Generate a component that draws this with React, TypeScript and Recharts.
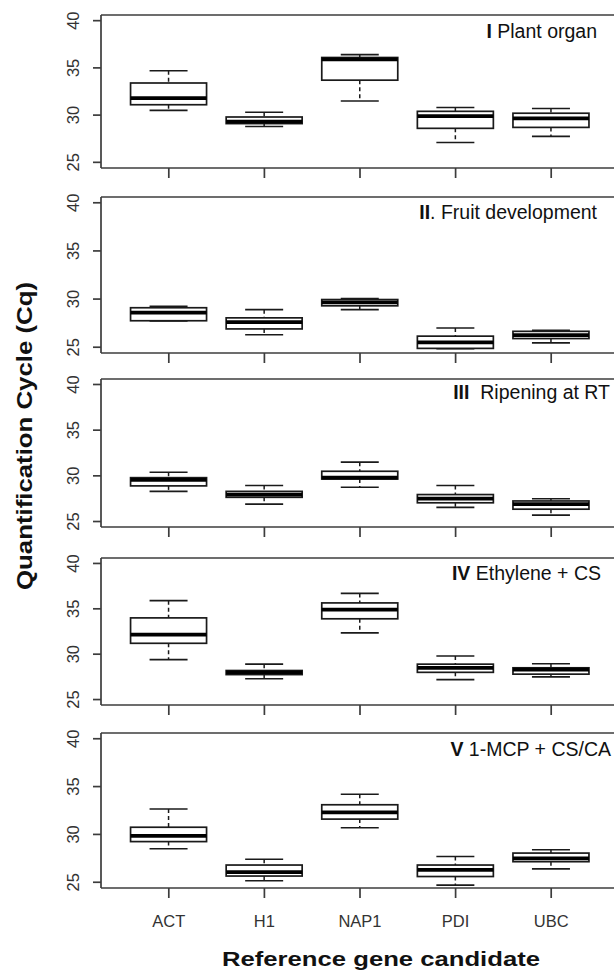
import React from 'react';
import { ComposedChart, Bar, XAxis, YAxis, ReferenceLine } from 'recharts';

// ---------- data ----------
const GENES = ['ACT', 'H1', 'NAP1', 'PDI', 'UBC'];
const Y_TICKS = [25, 30, 35, 40];
const Y_DOMAIN: [number, number] = [24.4, 40.6];

const PANEL_ROMAN = ['I', 'II', 'III', 'IV', 'V'];
const PANEL_NAMES = [' Plant organ', '. Fruit development', '  Ripening at RT', ' Ethylene + CS', ' 1-MCP + CS/CA'];

// I Plant organ
const P1_LOW = [30.5, 28.8, 31.5, 27.1, 27.75];
const P1_Q1 = [31.1, 29.1, 33.7, 28.6, 28.7];
const P1_MED = [31.8, 29.3, 35.9, 29.9, 29.65];
const P1_Q3 = [33.4, 29.8, 36.1, 30.4, 30.2];
const P1_HIGH = [34.7, 30.3, 36.4, 30.8, 30.7];

// II Fruit development
const P2_LOW = [27.72, 26.3, 28.9, 24.85, 25.45];
const P2_Q1 = [27.75, 26.9, 29.3, 24.88, 25.9];
const P2_MED = [28.6, 27.6, 29.65, 25.5, 26.25];
const P2_Q3 = [29.1, 28.05, 29.95, 26.15, 26.65];
const P2_HIGH = [29.25, 28.9, 30.05, 27.0, 26.75];

// III Ripening at RT
const P3_LOW = [28.3, 26.9, 28.75, 26.55, 25.7];
const P3_Q1 = [28.9, 27.65, 29.65, 27.05, 26.35];
const P3_MED = [29.55, 27.95, 29.8, 27.5, 26.9];
const P3_Q3 = [29.8, 28.3, 30.5, 27.95, 27.25];
const P3_HIGH = [30.4, 28.95, 31.5, 28.95, 27.5];

// IV Ethylene + CS
const P4_LOW = [29.4, 27.3, 32.35, 27.2, 27.5];
const P4_Q1 = [31.2, 27.75, 33.9, 28.0, 27.8];
const P4_MED = [32.15, 28.0, 34.9, 28.5, 28.3];
const P4_Q3 = [34.0, 28.2, 35.65, 28.9, 28.5];
const P4_HIGH = [35.9, 28.9, 36.7, 29.8, 28.95];

// V 1-MCP + CS/CA
const P5_LOW = [28.5, 25.15, 30.7, 24.7, 26.4];
const P5_Q1 = [29.25, 25.65, 31.6, 25.6, 27.15];
const P5_MED = [29.85, 26.05, 32.3, 26.3, 27.5];
const P5_Q3 = [30.75, 26.8, 33.1, 26.8, 28.05];
const P5_HIGH = [32.65, 27.4, 34.2, 27.7, 28.4];

const PANEL_STATS = [
  [P1_LOW, P1_Q1, P1_MED, P1_Q3, P1_HIGH],
  [P2_LOW, P2_Q1, P2_MED, P2_Q3, P2_HIGH],
  [P3_LOW, P3_Q1, P3_MED, P3_Q3, P3_HIGH],
  [P4_LOW, P4_Q1, P4_MED, P4_Q3, P4_HIGH],
  [P5_LOW, P5_Q1, P5_MED, P5_Q3, P5_HIGH],
];

// ---------- layout ----------
const FRAME_TOPS = [15, 197, 379, 558, 733];
const FRAME_HEIGHTS = [153, 156, 148, 147, 155];
const TITLE_RIGHT = [597, 597, 610, 601, 611];
const TITLE_BASE = [38, 219, 399, 580, 756];

const FONT = '"Liberation Sans", Arial, Helvetica, sans-serif';
const FRAME_COLOR = '#3c3c3c';
const BOX_COLOR = '#1a1a1a';
const TEXT_COLOR = '#111';

function buildRows(stats: number[][]) {
  const [lo, q1, med, q3, hi] = stats;
  return GENES.map((gene, i) => ({ gene, lo: lo[i], q1: q1[i], med: med[i], q3: q3[i], hi: hi[i] }));
}

function BoxShape(props: any) {
  const { x, y, width, height, payload } = props;
  const top = Math.min(y, y + height);
  const bot = Math.max(y, y + height);
  const span = payload.hi - payload.lo;
  const py = (v: number) => top + ((payload.hi - v) / span) * (bot - top);
  const cx = x + width / 2;
  const capHalf = width / 4;
  const yQ1 = py(payload.q1);
  const yQ3 = py(payload.q3);
  const yMed = py(payload.med);
  return (
    <g>
      <line x1={cx} x2={cx} y1={top} y2={yQ3} stroke={BOX_COLOR} strokeWidth={1.5} strokeDasharray="4 3" />
      <line x1={cx} x2={cx} y1={yQ1} y2={bot} stroke={BOX_COLOR} strokeWidth={1.5} strokeDasharray="4 3" />
      <line x1={cx - capHalf} x2={cx + capHalf} y1={top} y2={top} stroke={BOX_COLOR} strokeWidth={1.6} />
      <line x1={cx - capHalf} x2={cx + capHalf} y1={bot} y2={bot} stroke={BOX_COLOR} strokeWidth={1.6} />
      <rect x={x} y={yQ3} width={width} height={Math.max(yQ1 - yQ3, 0.5)} fill="#fff" stroke={BOX_COLOR} strokeWidth={1.7} />
      <line x1={x} x2={x + width} y1={yMed} y2={yMed} stroke="#000" strokeWidth={3.8} />
    </g>
  );
}

function YTick(props: any) {
  const { x, y, payload } = props;
  return (
    <text x={x} y={y} transform={`rotate(-90 ${x} ${y})`} textAnchor="middle" fontSize={16.5} fontFamily={FONT} fill="#333">
      {payload.value}
    </text>
  );
}

function XTick(props: any) {
  const { x, y, payload } = props;
  return (
    <text x={x} y={y} textAnchor="middle" fontSize={16.5} fontFamily={FONT} fill="#333">
      {payload.value}
    </text>
  );
}

function EmptyTick() {
  return <g />;
}

function Panel({ idx }: { idx: number }) {
  const rows = buildRows(PANEL_STATS[idx]);
  const showLabels = idx === PANEL_STATS.length - 1;
  const mTop = 6;
  const axisH = showLabels ? 45 : 14;
  const h = FRAME_HEIGHTS[idx];
  return (
    <div style={{ position: 'absolute', left: 0, top: FRAME_TOPS[idx] - mTop }}>
      <ComposedChart
        width={619}
        height={mTop + h + axisH}
        data={rows}
        margin={{ top: mTop, right: 0, bottom: 0, left: 0 }}
        barCategoryGap="10%"
      >
        <XAxis
          dataKey="gene"
          type="category"
          interval={0}
          padding={{ left: 20, right: 20 }}
          height={axisH}
          tickSize={10}
          tickMargin={29}
          axisLine={{ stroke: FRAME_COLOR, strokeWidth: 1.7 }}
          tickLine={{ stroke: FRAME_COLOR, strokeWidth: 1.7 }}
          tick={showLabels ? <XTick /> : <EmptyTick />}
        />
        <YAxis
          type="number"
          domain={Y_DOMAIN}
          ticks={Y_TICKS}
          interval={0}
          allowDataOverflow
          width={101}
          tickSize={8}
          tickMargin={14}
          axisLine={{ stroke: FRAME_COLOR, strokeWidth: 1.7 }}
          tickLine={{ stroke: FRAME_COLOR, strokeWidth: 1.7 }}
          tick={<YTick />}
        />
        <ReferenceLine y={Y_DOMAIN[1]} stroke={FRAME_COLOR} strokeWidth={1.7} />
        <Bar dataKey={(d: any) => [d.lo, d.hi]} shape={BoxShape} isAnimationActive={false} />
      </ComposedChart>
    </div>
  );
}

export default function App() {
  return (
    <div style={{ position: 'absolute', left: 0, top: 0, width: 614, height: 974, overflow: 'hidden', background: '#fff' }}>
      {PANEL_STATS.map((_, i) => (
        <Panel key={i} idx={i} />
      ))}
      <svg width={614} height={974} style={{ position: 'absolute', left: 0, top: 0, pointerEvents: 'none' }}>
        {PANEL_ROMAN.map((r, i) => (
          <text
            key={i}
            x={TITLE_RIGHT[i]}
            y={TITLE_BASE[i]}
            textAnchor="end"
            fontSize={19.5}
            fontFamily={FONT}
            fill={TEXT_COLOR}
            style={{ whiteSpace: 'pre' }}
          >
            <tspan fontWeight="bold">{r}</tspan>
            <tspan>{PANEL_NAMES[i]}</tspan>
          </text>
        ))}
        <text
          x={32}
          y={436}
          transform="rotate(-90 32 436)"
          textAnchor="middle"
          fontSize={22}
          fontWeight="bold"
          fontFamily={FONT}
          fill={TEXT_COLOR}
          textLength={308}
          lengthAdjust="spacingAndGlyphs"
        >
          Quantification Cycle (Cq)
        </text>
        <text
          x={381}
          y={966}
          textAnchor="middle"
          fontSize={21}
          fontWeight="bold"
          fontFamily={FONT}
          fill={TEXT_COLOR}
          textLength={318}
          lengthAdjust="spacingAndGlyphs"
        >
          Reference gene candidate
        </text>
      </svg>
    </div>
  );
}
